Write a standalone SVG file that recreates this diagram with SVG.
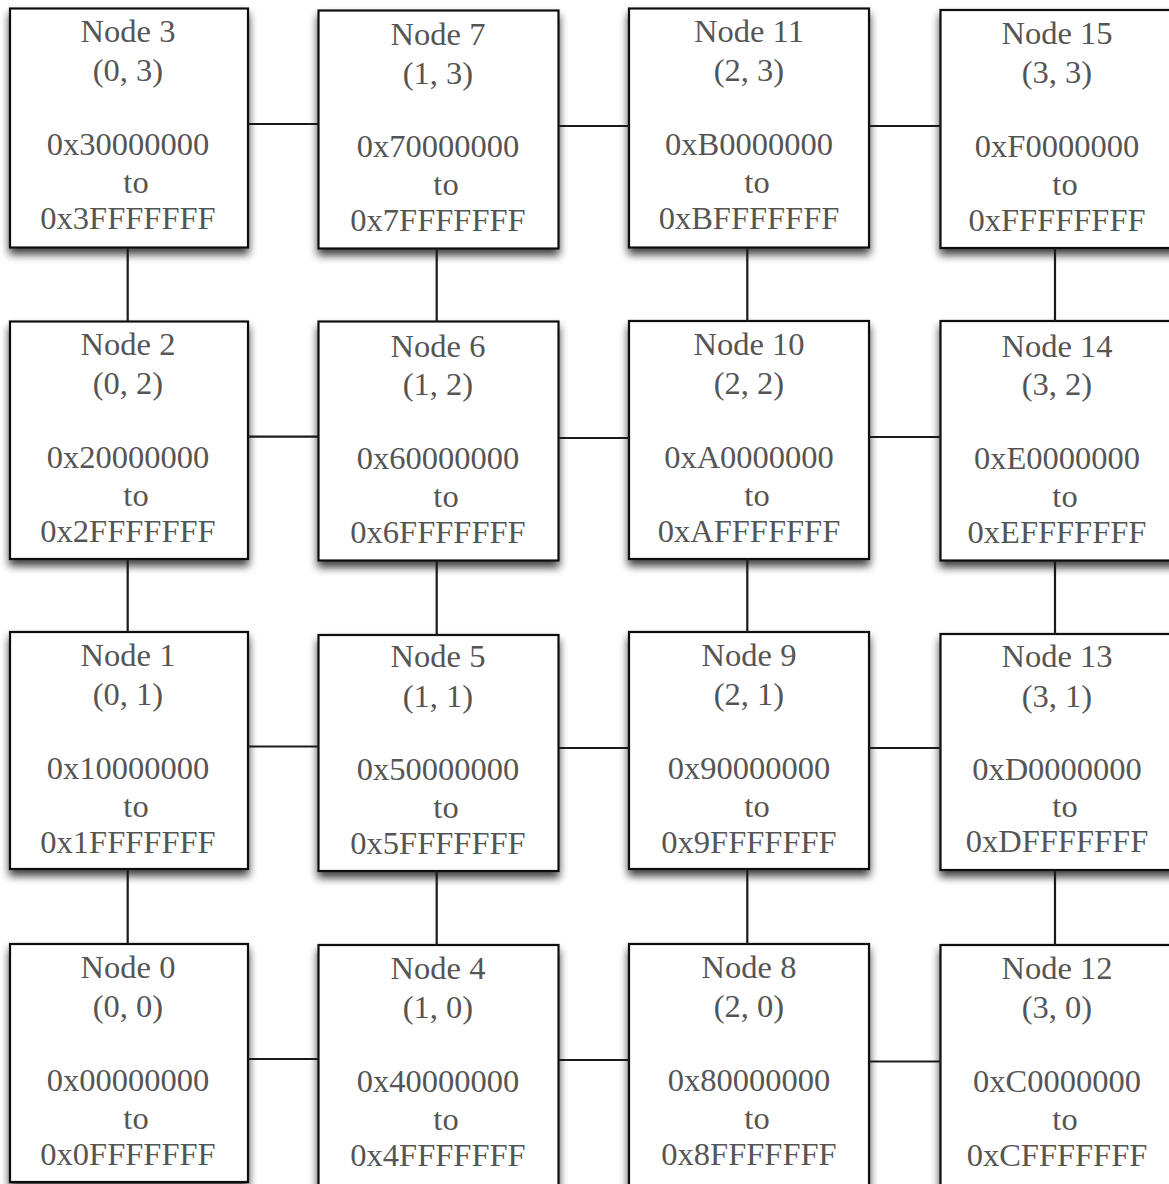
<svg xmlns="http://www.w3.org/2000/svg" width="1169" height="1184" viewBox="0 0 1169 1184">
<style>
.box{fill:#fff;stroke:#111;stroke-width:2.2;filter:url(#sh)}
.t{font-family:"Liberation Serif","Times New Roman",serif;font-size:32.5px;fill:#555;text-anchor:middle}
.c{stroke:#1a1a1a;stroke-width:2.2;fill:none}
</style>
<defs>
<filter id="sh" x="-10%" y="-10%" width="125%" height="125%">
<feGaussianBlur in="SourceAlpha" stdDeviation="4.5"/>
<feOffset dx="0" dy="6" result="b"/>
<feComponentTransfer><feFuncA type="linear" slope="0.75"/></feComponentTransfer>
<feMerge><feMergeNode/><feMergeNode in="SourceGraphic"/></feMerge>
</filter>
</defs>
<rect width="1169" height="1184" fill="#fff"/>
<g id="node3"><rect class="box" x="10" y="8.5" width="238" height="239"/>
<text class="t" x="128" y="42">Node 3</text><text class="t" x="128" y="81">(0, 3)</text><text class="t" x="128" y="155">0x30000000</text><text class="t" x="136" y="193">to</text><text class="t" x="128" y="229">0x3FFFFFFF</text></g>
<g id="node2"><rect class="box" x="10" y="321.5" width="238" height="237.5"/>
<text class="t" x="128" y="355">Node 2</text><text class="t" x="128" y="394">(0, 2)</text><text class="t" x="128" y="468">0x20000000</text><text class="t" x="136" y="506">to</text><text class="t" x="128" y="542">0x2FFFFFFF</text></g>
<g id="node1"><rect class="box" x="10" y="632" width="238" height="237"/>
<text class="t" x="128" y="665.5">Node 1</text><text class="t" x="128" y="704.5">(0, 1)</text><text class="t" x="128" y="778.5">0x10000000</text><text class="t" x="136" y="816.5">to</text><text class="t" x="128" y="852.5">0x1FFFFFFF</text></g>
<g id="node0"><rect class="box" x="10" y="944" width="238" height="238"/>
<text class="t" x="128" y="977.5">Node 0</text><text class="t" x="128" y="1016.5">(0, 0)</text><text class="t" x="128" y="1090.5">0x00000000</text><text class="t" x="136" y="1128.5">to</text><text class="t" x="128" y="1164.5">0x0FFFFFFF</text></g>
<g id="node7"><rect class="box" x="318.5" y="10.5" width="240" height="238"/>
<text class="t" x="438" y="44.5">Node 7</text><text class="t" x="438" y="83.5">(1, 3)</text><text class="t" x="438" y="157">0x70000000</text><text class="t" x="446" y="195">to</text><text class="t" x="438" y="231">0x7FFFFFFF</text></g>
<g id="node6"><rect class="box" x="318.5" y="321.5" width="240" height="239"/>
<text class="t" x="438" y="356.5">Node 6</text><text class="t" x="438" y="395">(1, 2)</text><text class="t" x="438" y="469">0x60000000</text><text class="t" x="446" y="507">to</text><text class="t" x="438" y="543">0x6FFFFFFF</text></g>
<g id="node5"><rect class="box" x="318.5" y="635" width="240" height="236"/>
<text class="t" x="438" y="667">Node 5</text><text class="t" x="438" y="707">(1, 1)</text><text class="t" x="438" y="780">0x50000000</text><text class="t" x="446" y="818">to</text><text class="t" x="438" y="854">0x5FFFFFFF</text></g>
<g id="node4"><rect class="box" x="318.5" y="945" width="240" height="242"/>
<text class="t" x="438" y="979">Node 4</text><text class="t" x="438" y="1018">(1, 0)</text><text class="t" x="438" y="1092">0x40000000</text><text class="t" x="446" y="1130">to</text><text class="t" x="438" y="1166">0x4FFFFFFF</text></g>
<g id="node11"><rect class="box" x="629" y="8.5" width="240" height="239"/>
<text class="t" x="749" y="42">Node 11</text><text class="t" x="749" y="81">(2, 3)</text><text class="t" x="749" y="155">0xB0000000</text><text class="t" x="757" y="193">to</text><text class="t" x="749" y="229">0xBFFFFFFF</text></g>
<g id="node10"><rect class="box" x="629" y="321" width="240" height="238"/>
<text class="t" x="749" y="355">Node 10</text><text class="t" x="749" y="394">(2, 2)</text><text class="t" x="749" y="468">0xA0000000</text><text class="t" x="757" y="506">to</text><text class="t" x="749" y="542">0xAFFFFFFF</text></g>
<g id="node9"><rect class="box" x="629" y="632" width="240" height="237"/>
<text class="t" x="749" y="665.5">Node 9</text><text class="t" x="749" y="704.5">(2, 1)</text><text class="t" x="749" y="778.5">0x90000000</text><text class="t" x="757" y="816.5">to</text><text class="t" x="749" y="852.5">0x9FFFFFFF</text></g>
<g id="node8"><rect class="box" x="629" y="944" width="240" height="242"/>
<text class="t" x="749" y="977.5">Node 8</text><text class="t" x="749" y="1016.5">(2, 0)</text><text class="t" x="749" y="1090.5">0x80000000</text><text class="t" x="757" y="1128.5">to</text><text class="t" x="749" y="1164.5">0x8FFFFFFF</text></g>
<g id="node15"><rect class="box" x="940.5" y="10" width="238" height="238"/>
<text class="t" x="1057" y="44">Node 15</text><text class="t" x="1057" y="83">(3, 3)</text><text class="t" x="1057" y="157">0xF0000000</text><text class="t" x="1065" y="195">to</text><text class="t" x="1057" y="231">0xFFFFFFFF</text></g>
<g id="node14"><rect class="box" x="940.5" y="321" width="238" height="239.5"/>
<text class="t" x="1057" y="356.5">Node 14</text><text class="t" x="1057" y="395">(3, 2)</text><text class="t" x="1057" y="469">0xE0000000</text><text class="t" x="1065" y="507">to</text><text class="t" x="1057" y="543">0xEFFFFFFF</text></g>
<g id="node13"><rect class="box" x="940.5" y="634" width="238" height="236"/>
<text class="t" x="1057" y="667">Node 13</text><text class="t" x="1057" y="707">(3, 1)</text><text class="t" x="1057" y="780">0xD0000000</text><text class="t" x="1065" y="817">to</text><text class="t" x="1057" y="852">0xDFFFFFFF</text></g>
<g id="node12"><rect class="box" x="940.5" y="945" width="238" height="242"/>
<text class="t" x="1057" y="979">Node 12</text><text class="t" x="1057" y="1018">(3, 0)</text><text class="t" x="1057" y="1092">0xC0000000</text><text class="t" x="1065" y="1130">to</text><text class="t" x="1057" y="1166">0xCFFFFFFF</text></g>
<g id="connectors" class="c">
<line x1="248" y1="124" x2="318.5" y2="124"/>
<line x1="558.5" y1="126" x2="629" y2="126"/>
<line x1="869" y1="126" x2="940.5" y2="126"/>
<line x1="248" y1="436.7" x2="318.5" y2="436.7"/>
<line x1="558.5" y1="438" x2="629" y2="438"/>
<line x1="869" y1="437" x2="940.5" y2="437"/>
<line x1="248" y1="746.5" x2="318.5" y2="746.5"/>
<line x1="558.5" y1="748" x2="629" y2="748"/>
<line x1="869" y1="748" x2="940.5" y2="748"/>
<line x1="248" y1="1059" x2="318.5" y2="1059"/>
<line x1="558.5" y1="1060" x2="629" y2="1060"/>
<line x1="869" y1="1061.5" x2="940.5" y2="1061.5"/>
<line x1="127.7" y1="247.5" x2="127.7" y2="321.5"/>
<line x1="127.7" y1="559" x2="127.7" y2="632"/>
<line x1="127.7" y1="869" x2="127.7" y2="944"/>
<line x1="436.7" y1="248.5" x2="436.7" y2="321.5"/>
<line x1="436.7" y1="560.5" x2="436.7" y2="635"/>
<line x1="436.7" y1="871" x2="436.7" y2="945"/>
<line x1="747.3" y1="247.5" x2="747.3" y2="321"/>
<line x1="747.3" y1="559" x2="747.3" y2="632"/>
<line x1="747.3" y1="869" x2="747.3" y2="944"/>
<line x1="1055" y1="248" x2="1055" y2="321"/>
<line x1="1055" y1="560.5" x2="1055" y2="634"/>
<line x1="1055" y1="870" x2="1055" y2="945"/>
</g>
</svg>
